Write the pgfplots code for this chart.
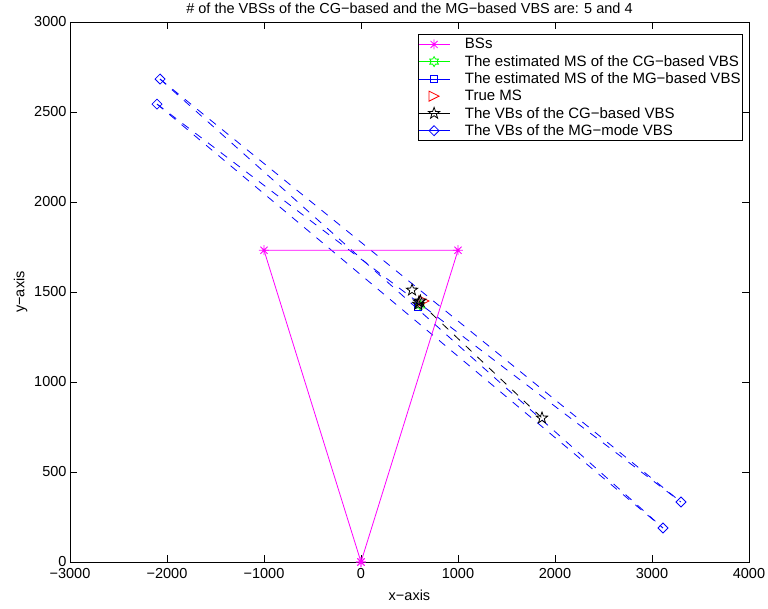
\documentclass[border=0pt]{standalone}
\usepackage{fontspec}
\setmainfont{Liberation Sans}
\usepackage{pgfplots}
\pgfplotsset{compat=1.18}
\usetikzlibrary{plotmarks}

\definecolor{mmag}{rgb}{1,0,1}
\definecolor{mgreen}{rgb}{0,1,0}
\definecolor{mblue}{rgb}{0,0,1}
\definecolor{mred}{rgb}{1,0,0}

% outlined five-pointed star
\pgfdeclareplotmark{pentagram}{%
  \pgfpathmoveto{\pgfpointpolar{90}{\pgfplotmarksize}}%
  \pgfpathlineto{\pgfpointpolar{126}{0.40\pgfplotmarksize}}%
  \pgfpathlineto{\pgfpointpolar{162}{\pgfplotmarksize}}%
  \pgfpathlineto{\pgfpointpolar{198}{0.40\pgfplotmarksize}}%
  \pgfpathlineto{\pgfpointpolar{234}{\pgfplotmarksize}}%
  \pgfpathlineto{\pgfpointpolar{270}{0.40\pgfplotmarksize}}%
  \pgfpathlineto{\pgfpointpolar{306}{\pgfplotmarksize}}%
  \pgfpathlineto{\pgfpointpolar{342}{0.40\pgfplotmarksize}}%
  \pgfpathlineto{\pgfpointpolar{18}{\pgfplotmarksize}}%
  \pgfpathlineto{\pgfpointpolar{54}{0.40\pgfplotmarksize}}%
  \pgfpathclose\pgfusepathqstroke}
% outlined six-pointed star
\pgfdeclareplotmark{hexagram}{%
  \pgfpathmoveto{\pgfpointpolar{90}{\pgfplotmarksize}}%
  \pgfpathlineto{\pgfpointpolar{120}{0.58\pgfplotmarksize}}%
  \pgfpathlineto{\pgfpointpolar{150}{\pgfplotmarksize}}%
  \pgfpathlineto{\pgfpointpolar{180}{0.58\pgfplotmarksize}}%
  \pgfpathlineto{\pgfpointpolar{210}{\pgfplotmarksize}}%
  \pgfpathlineto{\pgfpointpolar{240}{0.58\pgfplotmarksize}}%
  \pgfpathlineto{\pgfpointpolar{270}{\pgfplotmarksize}}%
  \pgfpathlineto{\pgfpointpolar{300}{0.58\pgfplotmarksize}}%
  \pgfpathlineto{\pgfpointpolar{330}{\pgfplotmarksize}}%
  \pgfpathlineto{\pgfpointpolar{0}{0.58\pgfplotmarksize}}%
  \pgfpathlineto{\pgfpointpolar{30}{\pgfplotmarksize}}%
  \pgfpathlineto{\pgfpointpolar{60}{0.58\pgfplotmarksize}}%
  \pgfpathclose\pgfusepathqstroke}
% eight-armed asterisk
\pgfdeclareplotmark{mast}{%
  \pgfpathmoveto{\pgfqpoint{-\pgfplotmarksize}{0pt}}\pgfpathlineto{\pgfqpoint{\pgfplotmarksize}{0pt}}%
  \pgfpathmoveto{\pgfqpoint{0pt}{-\pgfplotmarksize}}\pgfpathlineto{\pgfqpoint{0pt}{\pgfplotmarksize}}%
  \pgfpathmoveto{\pgfpointpolar{45}{\pgfplotmarksize}}\pgfpathlineto{\pgfpointpolar{225}{\pgfplotmarksize}}%
  \pgfpathmoveto{\pgfpointpolar{135}{\pgfplotmarksize}}\pgfpathlineto{\pgfpointpolar{315}{\pgfplotmarksize}}%
  \pgfusepathqstroke}
% diamond
\pgfdeclareplotmark{mdiam}{%
  \pgfpathmoveto{\pgfqpoint{0pt}{\pgfplotmarksize}}%
  \pgfpathlineto{\pgfqpoint{\pgfplotmarksize}{0pt}}%
  \pgfpathlineto{\pgfqpoint{0pt}{-\pgfplotmarksize}}%
  \pgfpathlineto{\pgfqpoint{-\pgfplotmarksize}{0pt}}%
  \pgfpathclose\pgfusepathqstroke}
% right-pointing triangle
\pgfdeclareplotmark{mtri}{%
  \pgfpathmoveto{\pgfqpoint{\pgfplotmarksize}{0pt}}%
  \pgfpathlineto{\pgfqpoint{-\pgfplotmarksize}{\pgfplotmarksize}}%
  \pgfpathlineto{\pgfqpoint{-\pgfplotmarksize}{-\pgfplotmarksize}}%
  \pgfpathclose\pgfusepathqstroke}
% square
\pgfdeclareplotmark{msq}{%
  \pgfpathrectanglecorners{\pgfqpoint{-\pgfplotmarksize}{-\pgfplotmarksize}}{\pgfqpoint{\pgfplotmarksize}{\pgfplotmarksize}}%
  \pgfusepathqstroke}

\newcommand{\mfont}{\fontsize{14.5}{17}\selectfont}
\newcommand{\lfont}{\fontsize{15}{17.5}\selectfont}

\begin{document}
\begin{tikzpicture}
\begin{axis}[
  at={(0,0)}, anchor=south west,
  scale only axis, width=679pt, height=540pt,
  xmin=-3000, xmax=4000, ymin=0, ymax=3000,
  xtick={-3000,-2000,...,4000},
  xticklabels={−3000,−2000,−1000,0,1000,2000,3000,4000},
  ytick={0,500,...,3000},
  /pgf/number format/assume math mode=true,
  /pgf/number format/1000 sep={},
  tick align=inside, major tick length=7pt,
  every tick/.style={black, line width=0.8pt},
  axis line style={line width=0.9pt},
  ticklabel style={font=\mfont},
  xticklabel style={yshift=-3pt},
  label style={font=\mfont},
  title style={font=\mfont, yshift=-1pt},
  title={\# of the VBSs of the CG−based and the MG−based VBS are: 5 and 4},
  xlabel={x−axis}, ylabel={y−axis},
  xlabel style={yshift=-4pt},
  legend style={at={(1,1)}, anchor=north east, xshift=-6pt, yshift=-12pt,
    font=\lfont, draw=black, line width=0.9pt, cells={anchor=west},
    inner xsep=0pt, inner ysep=2pt, row sep=1pt,
    nodes={inner xsep=2pt},
    /tikz/every odd column/.append style={column sep=13pt}},
  legend image code/.code={%
    \draw[mark repeat=2,mark phase=2,line width=0.8pt,#1]
      plot coordinates {(0pt,0pt) (15.5pt,0pt) (31pt,0pt)};},
]
% legend samples
\addlegendimage{mmag, draw=mmag, mark=mast, mark size=5pt}
\addlegendimage{mgreen, draw=mgreen, mark=hexagram, mark size=5pt}
\addlegendimage{mblue, draw=mblue, mark=msq, mark size=3.5pt}
\addlegendimage{mred, draw=mred, only marks, mark=mtri, mark size=5pt}
\addlegendimage{black, draw=black, mark=pentagram, mark size=6pt}
\addlegendimage{mblue, draw=mblue, mark=mdiam, mark size=5pt}

% links between the VBs of the MG-mode VBS
\addplot[mblue, line width=0.8pt, dash pattern=on 8pt off 8pt, forget plot]
  coordinates {(-2072,2683) (3299,333)};
\addplot[mblue, line width=0.8pt, dash pattern=on 8pt off 8pt, forget plot]
  coordinates {(-2072,2683) (3113,189)};
\addplot[mblue, line width=0.8pt, dash pattern=on 8pt off 8pt, forget plot]
  coordinates {(-2103,2544) (3299,333)};
\addplot[mblue, line width=0.8pt, dash pattern=on 8pt off 8pt, forget plot]
  coordinates {(-2103,2544) (3113,189)};
% link of the CG-based VBS
\addplot[black, line width=0.8pt, dash pattern=on 8pt off 8pt, forget plot]
  coordinates {(600,1445) (1866,800)};

% BSs
\addplot[mmag, line width=0.8pt, mark=mast, mark size=5pt, forget plot]
  coordinates {(0,0) (-1000,1732) (1000,1732) (0,0)};
% estimated MS
\addplot[mgreen, line width=0.8pt, only marks, mark=hexagram, mark size=5pt, forget plot]
  coordinates {(612,1425)};
\addplot[mblue, line width=0.8pt, only marks, mark=msq, mark size=3.5pt, forget plot]
  coordinates {(588,1417)};
% true MS
\addplot[mred, line width=0.8pt, only marks, mark=mtri, mark size=5pt, forget plot]
  coordinates {(650,1450)};
% VBs of the CG-based VBS
\addplot[black, line width=0.8pt, only marks, mark=pentagram, mark size=6pt, forget plot]
  coordinates {(526,1511) (598,1445) (590,1432) (612,1450) (1866,800)};
% VBs of the MG-mode VBS
\addplot[mblue, line width=0.8pt, only marks, mark=mdiam, mark size=5pt, forget plot]
  coordinates {(-2072,2683) (-2103,2544) (3299,333) (3113,189)};

\legend{BSs,
  The estimated MS of the CG−based VBS,
  The estimated MS of the MG−based VBS,
  True MS,
  The VBs of the CG−based VBS,
  The VBs of the MG−mode VBS}
\end{axis}
\pgfresetboundingbox
\path[use as bounding box] (-70pt,-46pt) rectangle (698pt,562pt);
\end{tikzpicture}
\end{document}
